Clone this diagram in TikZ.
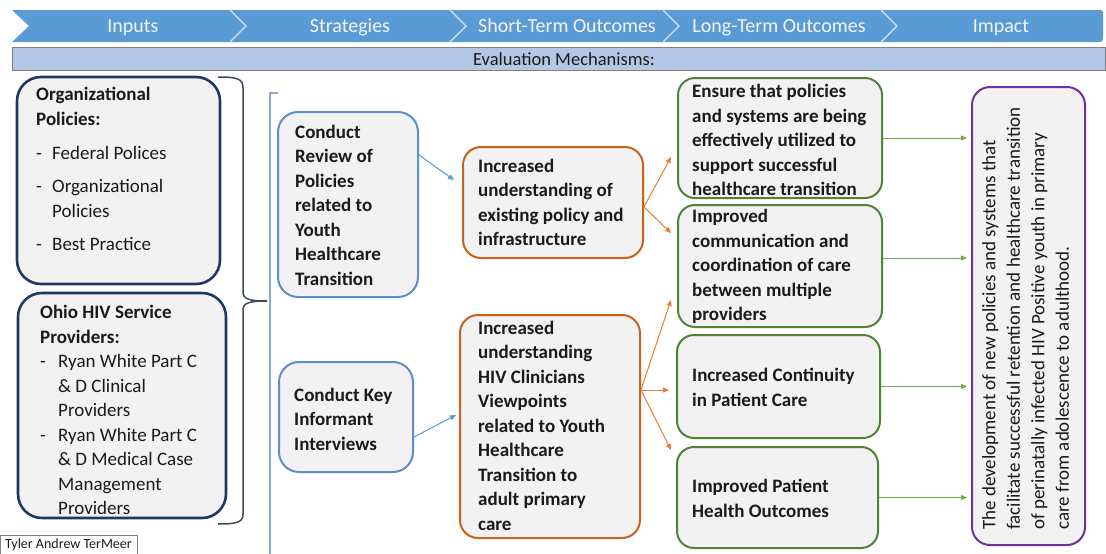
\documentclass[tikz,border=0pt]{standalone}
\usepackage{fontspec}
\setmainfont{Carlito}
\usetikzlibrary{arrows.meta}

\definecolor{hdrblue}{HTML}{5B9BD5}
\definecolor{seplight}{HTML}{D5E4F3}
\definecolor{hdrtext}{HTML}{F2F6FC}
\definecolor{evalfill}{HTML}{B4C7E7}
\definecolor{evalline}{HTML}{7F7F7F}
\definecolor{boxfill}{HTML}{F2F2F2}
\definecolor{navy}{HTML}{203864}
\definecolor{stratblue}{HTML}{5B8FC9}
\definecolor{arrowblue}{HTML}{5B9BD5}
\definecolor{orangeline}{HTML}{C8621C}
\definecolor{orangearrow}{HTML}{ED7D31}
\definecolor{greenline}{HTML}{548235}
\definecolor{greenarrow}{HTML}{70AD47}
\definecolor{impactpurple}{HTML}{7030A0}
\definecolor{bracegray}{HTML}{3B4A5E}
\definecolor{bracketblue}{HTML}{8FAAC9}
\definecolor{textdark}{HTML}{1A1A1A}

% dash bullet and the indent of its continuation lines
\newcommand\dashmark[1]{\makebox[#1][l]{-}}
\newcommand\dashcont[1]{\hspace*{#1}}

\begin{document}
\begin{tikzpicture}[x=1pt,y=-1pt,
  panel/.style={draw, fill=boxfill, inner sep=0pt, line width=2pt},
  inbox/.style={panel, draw=navy, line width=2.6pt, rounded corners=24pt},
  stratbox/.style={panel, draw=stratblue, rounded corners=20pt},
  shortbox/.style={panel, draw=orangeline, rounded corners=18pt},
  longbox/.style={panel, draw=greenline, rounded corners=17pt},
  impactbox/.style={panel, draw=impactpurple, rounded corners=18pt},
  bodytxt/.style={font=\fontsize{19}{24.5}\selectfont\bfseries, align=left, inner sep=0pt, text=textdark},
  plaintxt/.style={font=\fontsize{19}{24.5}\selectfont, align=left, inner sep=0pt, text=textdark},
  hdrtxt/.style={font=\fontsize{20}{24}\selectfont, text=hdrtext, inner sep=0pt, anchor=base},
  link/.style={line width=1pt, -{Triangle[length=6pt,width=5pt]}},
]
\useasboundingbox (0,0) rectangle (1106,554);
\fill[white] (0,0) rectangle (1106,554);

% chevron header band
\fill[hdrblue] (12,10) -- (1097,10) .. controls (1103,10) .. (1103,16) -- (1103,36)
  .. controls (1103,42) .. (1097,42) -- (12,42) -- (29,26) -- cycle;
\foreach \sx in {230,450,663,881}
  \draw[seplight, line width=1.3pt] (\sx,10) -- (\sx+16,26) -- (\sx,42);
\node[hdrtxt] (h1) at (133,32) {Inputs};
\node[hdrtxt] (h2) at (350,32) {Strategies};
\node[hdrtxt] (h3) at (567,32) {Short-Term Outcomes};
\node[hdrtxt] (h4) at (779,32) {Long-Term Outcomes};
\node[hdrtxt] (h5) at (1001,32) {Impact};

% evaluation band
\node[draw=evalline, fill=evalfill, line width=1pt, minimum width=1093pt, minimum height=23pt, inner sep=0pt] (evalbar) at (558.5,58.5) {};
\node[font=\fontsize{18.5}{22}\selectfont, text=textdark, anchor=base, inner sep=0pt] (evaltxt) at (564,65) {Evaluation Mechanisms:};

% inputs
\node[inbox, minimum width=203pt, minimum height=207pt] (org) at (118.5,180.5) {};
\node[plaintxt, anchor=north west] (orgtxt) at (36,87) {\textbf{Organizational}\\\textbf{Policies:}\\[9.5pt]
  \dashmark{16pt}Federal Polices\\[9pt]
  \dashmark{16pt}Organizational\\\dashcont{16pt}Policies\\[9pt]
  \dashmark{16pt}Best Practice};
\node[inbox, minimum width=208pt, minimum height=225pt] (ohio) at (122,405.5) {};
\node[plaintxt, anchor=north west] (ohiotxt) at (40,305) {\textbf{Ohio HIV Service}\\\textbf{Providers:}\\
  \dashmark{18pt}Ryan White Part C\\\dashcont{18pt}\& D Clinical\\\dashcont{18pt}Providers\\
  \dashmark{18pt}Ryan White Part C\\\dashcont{18pt}\& D Medical Case\\\dashcont{18pt}Management\\\dashcont{18pt}Providers};

\node[draw=evalline, fill=white, line width=0.8pt, minimum width=137pt, minimum height=20pt, inner sep=0pt, font=\fontsize{14}{16}\selectfont, text=textdark] (credit) at (68.5,545) {Tyler Andrew TerMeer};

% brace gathering the inputs
\coordinate (braceTop) at (218,77);
\coordinate (braceTip) at (267,301);
\coordinate (braceBot) at (218,524);
\draw[bracegray, line width=1.5pt] (braceTop) .. controls (238,77) and (243,79) .. (243,88) -- (243,292)
  .. controls (243,299) and (249,301) .. (braceTip) .. controls (249,301) and (243,303) .. (243,310)
  -- (243,514) .. controls (243,522) and (238,524) .. (braceBot);

% bracket in front of the strategies
\coordinate (bracketTop) at (278,93);
\coordinate (bracketBot) at (270,554);
\draw[bracketblue, line width=1.5pt] (bracketTop) -- (270,93) -- (bracketBot);

% strategies
\node[stratbox, minimum width=140pt, minimum height=185pt] (s1) at (348,204.5) {};
\node[bodytxt, anchor=west] (s1txt) at (295,205) {Conduct\\Review of\\Policies\\related to\\Youth\\Healthcare\\Transition};
\node[stratbox, minimum width=134pt, minimum height=110pt] (s2) at (346,417) {};
\node[bodytxt, anchor=west] (s2txt) at (294,419) {Conduct Key\\Informant\\Interviews};

% short-term outcomes
\node[shortbox, minimum width=180pt, minimum height=111pt] (oa) at (553,202.5) {};
\node[bodytxt, anchor=west] (oatxt) at (478,202.5) {Increased\\understanding of\\existing policy and\\infrastructure};
\node[shortbox, minimum width=180pt, minimum height=223pt] (ob) at (550,426.5) {};
\node[bodytxt, anchor=west] (obtxt) at (478,425.5) {Increased\\understanding\\HIV Clinicians\\Viewpoints\\related to Youth\\Healthcare\\Transition to\\adult primary\\care};

% long-term outcomes
\node[longbox, minimum width=204pt, minimum height=120pt] (g1) at (780,138) {};
\node[bodytxt, anchor=west] (g1txt) at (692,140) {Ensure that policies\\and systems are being\\effectively utilized to\\support successful\\healthcare transition};
\node[longbox, minimum width=204pt, minimum height=122pt] (g2) at (780,266) {};
\node[bodytxt, anchor=west] (g2txt) at (692,266.5) {Improved\\communication and\\coordination of care\\between multiple\\providers};
\node[longbox, minimum width=203pt, minimum height=103pt] (g3) at (778.5,386.5) {};
\node[bodytxt, anchor=west] (g3txt) at (692,387.5) {Increased Continuity\\in Patient Care};
\node[longbox, minimum width=201pt, minimum height=101pt] (g4) at (777.5,497.5) {};
\node[bodytxt, anchor=west] (g4txt) at (692,498.5) {Improved Patient\\Health Outcomes};

% impact
\node[impactbox, minimum width=113pt, minimum height=458pt] (imp) at (1028.5,316) {};
\node[plaintxt, rotate=90, anchor=north west] (imptxt) at (982,530) {The development of new policies and systems that\\facilitate successful retention and healthcare transition\\of perinatally infected HIV Positive youth in primary\\care from adolescence to adulthood.};

% connectors
\draw[link, arrowblue] ([yshift=49.5pt]s1.east) -- ([xshift=-8pt,yshift=22.5pt]oa.west);
\draw[link, arrowblue] ([yshift=-20pt]s2.east) -- ([xshift=-3pt,yshift=11.5pt]ob.west);

\draw[link, orangearrow] ([yshift=-4.5pt]oa.east) -- ([xshift=-6pt,yshift=-19pt]g1.west);
\draw[link, orangearrow] ([yshift=-4.5pt]oa.east) -- ([xshift=-6pt,yshift=33pt]g2.west);
\draw[link, orangearrow] ([yshift=36.5pt]ob.east) -- ([xshift=-6pt,yshift=-34pt]g2.west);
\draw[link, orangearrow] ([yshift=36.5pt]ob.east) -- ([xshift=-7pt,yshift=-3.5pt]g3.west);
\draw[link, orangearrow] ([yshift=36.5pt]ob.east) -- ([xshift=-5pt,yshift=47.5pt]g4.west);

\draw[link, greenarrow, shorten >=4pt] (g1.east) -- (g1.east -| imp.west);
\draw[link, greenarrow, shorten >=4pt] ([yshift=8pt]g2.east) -- ([yshift=8pt]g2.east -| imp.west);
\draw[link, greenarrow, shorten >=4pt] (g3.east) -- (g3.east -| imp.west);
\draw[link, greenarrow, shorten >=4pt] (g4.east) -- (g4.east -| imp.west);
\end{tikzpicture}
\end{document}
